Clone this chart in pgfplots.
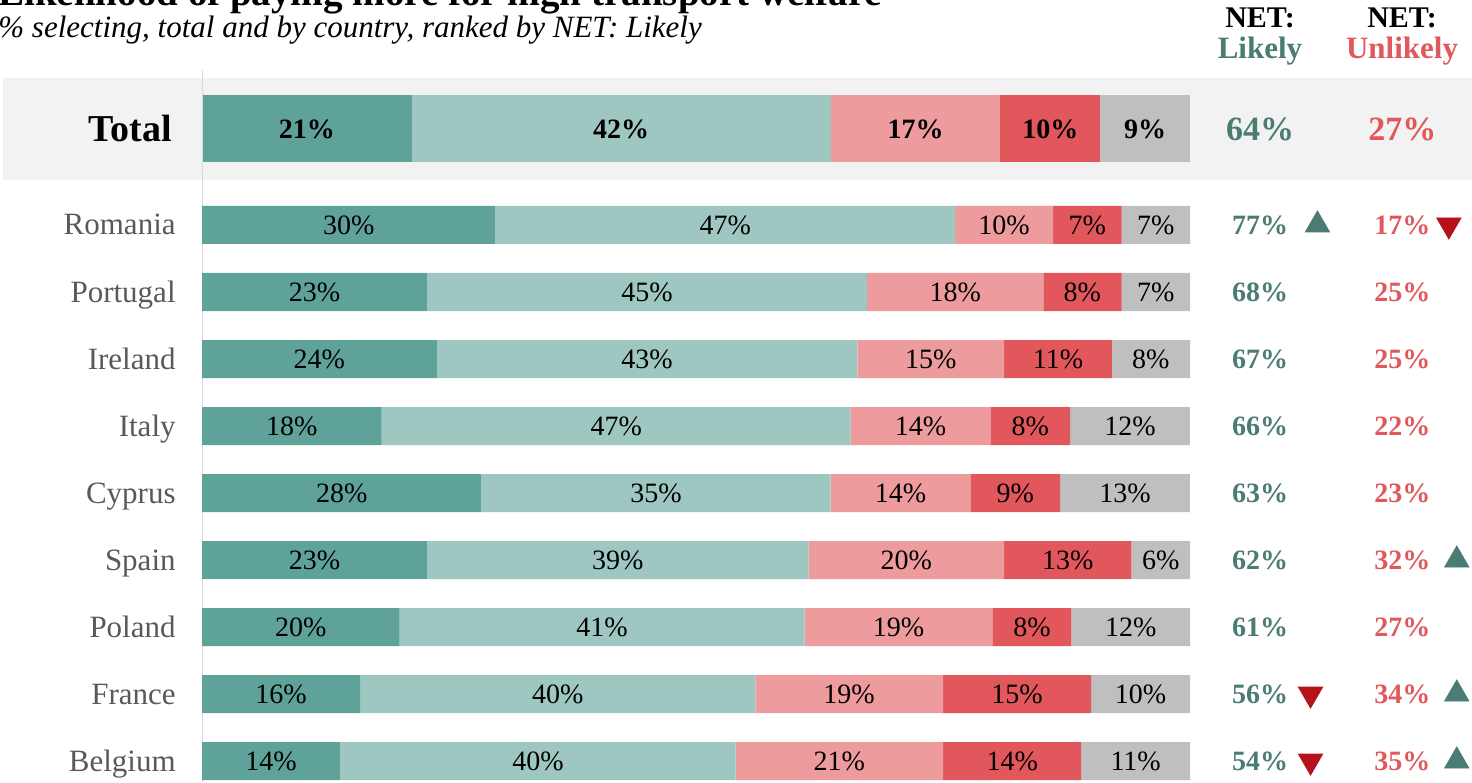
\documentclass[border=0pt]{standalone}
\usepackage{fontspec}
\setmainfont{Liberation Serif}
\usepackage{pgfplots}
\usepackage{pgfplotstable}
\pgfplotsset{compat=1.18}

\definecolor{cA}{HTML}{5FA29A}
\definecolor{cB}{HTML}{9FC7C2}
\definecolor{cC}{HTML}{ED9B9C}
\definecolor{cD}{HTML}{E2575C}
\definecolor{cE}{HTML}{BFBFBF}
\definecolor{likelyc}{HTML}{4A7C74}
\definecolor{unlikelyc}{HTML}{E0585C}
\definecolor{bandgray}{HTML}{F2F2F2}
\definecolor{namegray}{HTML}{595959}
\definecolor{downred}{HTML}{B5121B}
\definecolor{linegray}{HTML}{D9D9D9}

% rounded shares per row: a=very likely, b=somewhat likely, c=somewhat unlikely, d=very unlikely, e=don't know
\pgfplotstableread{
row name a b c d e nl nu
1 Romania 30 47 10 7 7 77 17
2 Portugal 23 45 18 8 7 68 25
3 Ireland 24 43 15 11 8 67 25
4 Italy 18 47 14 8 12 66 22
5 Cyprus 28 35 14 9 13 63 23
6 Spain 23 39 20 13 6 62 32
7 Poland 20 41 19 8 12 61 27
8 France 16 40 19 15 10 56 34
9 Belgium 14 40 21 14 11 54 35
}\countries

\pgfplotstableread{
row name a b c d e nl nu
-0.433 Total 21 42 17 10 9 64 27
}\total

% row sum, so every bar is scaled to 100
\newcommand{\rs}{(\thisrow{a}+\thisrow{b}+\thisrow{c}+\thisrow{d}+\thisrow{e})}

\pgfplotsset{
  base/.style={scale only axis, width=494pt, height=356pt,
    xmin=0, xmax=100, ymin=-1.313, ymax=9.313, y dir=reverse,
    hide axis, at={(101pt,-35pt)}, anchor=north west},
  lab/.style={draw=none, point meta=explicit symbolic,
    nodes near coords={\pgfplotspointmeta\%},
    every node near coord/.append style={anchor=center, text=black, font=#1}},
}

\begin{document}
\begin{tikzpicture}
\path[use as bounding box] (0,0) rectangle (736pt,-391pt);
\fill[bandgray] (1.5pt,-39pt) rectangle (736pt,-90pt);

\node[anchor=base west, inner sep=0pt, font=\bfseries\fontsize{19.5}{22}\selectfont] at (-1pt,-2.5pt)
  {Likelihood of paying more for high transport welfare};
\node[anchor=base west, inner sep=0pt, font=\itshape\fontsize{15.5}{18}\selectfont] at (-1pt,-18.5pt)
  {\% selecting, total and by country, ranked by NET: Likely};

\node[anchor=base, font=\bfseries\fontsize{15}{17}\selectfont] at (630pt,-13.5pt) {NET:};
\node[anchor=base, font=\bfseries\fontsize{15.5}{17}\selectfont, text=likelyc] at (630pt,-29pt) {Likely};
\node[anchor=base, font=\bfseries\fontsize{15}{17}\selectfont] at (701pt,-13.5pt) {NET:};
\node[anchor=base, font=\bfseries\fontsize{15.5}{17}\selectfont, text=unlikelyc] at (701pt,-29pt) {Unlikely};

% total bar
\begin{axis}[base, xbar stacked, bar width=33.5pt]
\draw[linegray, line width=0.6pt] (axis cs:0,-1.313) -- (axis cs:0,9.313);
\addplot[fill=cA, draw=none] table[x expr={100*\thisrow{a}/\rs}, y=row]{\total};
\addplot[fill=cB, draw=none] table[x expr={100*\thisrow{b}/\rs}, y=row]{\total};
\addplot[fill=cC, draw=none] table[x expr={100*\thisrow{c}/\rs}, y=row]{\total};
\addplot[fill=cD, draw=none] table[x expr={100*\thisrow{d}/\rs}, y=row]{\total};
\addplot[fill=cE, draw=none] table[x expr={100*\thisrow{e}/\rs}, y=row]{\total};
\end{axis}

% country bars
\begin{axis}[base, xbar stacked, bar width=19pt]
\addplot[fill=cA, draw=none] table[x expr={100*\thisrow{a}/\rs}, y=row]{\countries};
\addplot[fill=cB, draw=none] table[x expr={100*\thisrow{b}/\rs}, y=row]{\countries};
\addplot[fill=cC, draw=none] table[x expr={100*\thisrow{c}/\rs}, y=row]{\countries};
\addplot[fill=cD, draw=none] table[x expr={100*\thisrow{d}/\rs}, y=row]{\countries};
\addplot[fill=cE, draw=none] table[x expr={100*\thisrow{e}/\rs}, y=row]{\countries};
\end{axis}

% labels, NET columns and arrows
\begin{axis}[base, clip=false]
\def\sfont{\fontsize{14}{16}\selectfont}
\addplot[lab=\sfont] table[x expr={100*(\thisrow{a}/2)/\rs}, y=row, meta=a]{\countries};
\addplot[lab=\sfont] table[x expr={100*(\thisrow{a}+\thisrow{b}/2)/\rs}, y=row, meta=b]{\countries};
\addplot[lab=\sfont] table[x expr={100*(\thisrow{a}+\thisrow{b}+\thisrow{c}/2)/\rs}, y=row, meta=c]{\countries};
\addplot[lab=\sfont] table[x expr={100*(\thisrow{a}+\thisrow{b}+\thisrow{c}+\thisrow{d}/2)/\rs}, y=row, meta=d]{\countries};
\addplot[lab=\sfont] table[x expr={100*(\thisrow{a}+\thisrow{b}+\thisrow{c}+\thisrow{d}+\thisrow{e}/2)/\rs}, y=row, meta=e]{\countries};

\def\tfont{\bfseries\fontsize{14}{16}\selectfont}
\addplot[lab=\tfont] table[x expr={100*(\thisrow{a}/2)/\rs}, y=row, meta=a]{\total};
\addplot[lab=\tfont] table[x expr={100*(\thisrow{a}+\thisrow{b}/2)/\rs}, y=row, meta=b]{\total};
\addplot[lab=\tfont] table[x expr={100*(\thisrow{a}+\thisrow{b}+\thisrow{c}/2)/\rs}, y=row, meta=c]{\total};
\addplot[lab=\tfont] table[x expr={100*(\thisrow{a}+\thisrow{b}+\thisrow{c}+\thisrow{d}/2)/\rs}, y=row, meta=d]{\total};
\addplot[lab=\tfont] table[x expr={100*(\thisrow{a}+\thisrow{b}+\thisrow{c}+\thisrow{d}+\thisrow{e}/2)/\rs}, y=row, meta=e]{\total};

% row names
\addplot[draw=none, point meta=explicit symbolic, nodes near coords={\pgfplotspointmeta},
  every node near coord/.append style={anchor=base east, inner xsep=0pt, yshift=-5pt, text=namegray,
  font=\fontsize{15.5}{17}\selectfont}] table[x expr=-2.63, y=row, meta=name]{\countries};
\addplot[draw=none, point meta=explicit symbolic, nodes near coords={\pgfplotspointmeta},
  every node near coord/.append style={anchor=base east, inner xsep=0pt, yshift=-6.5pt, text=black,
  font=\bfseries\fontsize{19}{21}\selectfont}] table[x expr=-3.04, y=row, meta=name]{\total};

% NET columns
\addplot[lab=\bfseries\fontsize{14}{16}\selectfont, every node near coord/.append style={text=likelyc}]
  table[x expr=107.1, y=row, meta=nl]{\countries};
\addplot[lab=\bfseries\fontsize{14}{16}\selectfont, every node near coord/.append style={text=unlikelyc}]
  table[x expr=121.5, y=row, meta=nu]{\countries};
\addplot[lab=\bfseries\fontsize{17}{19}\selectfont, every node near coord/.append style={text=likelyc}]
  table[x expr=107.1, y=row, meta=nl]{\total};
\addplot[lab=\bfseries\fontsize{17}{19}\selectfont, every node near coord/.append style={text=unlikelyc}]
  table[x expr=121.5, y=row, meta=nu]{\total};

% significance arrows
\addplot[only marks, mark=triangle*, mark size=7pt, color=likelyc]
  coordinates {(112.9,1) (127.0,6) (127.0,8) (127.0,9)};
\addplot[only marks, mark=triangle*, mark size=7pt, mark options={rotate=180}, color=downred]
  coordinates {(126.2,1) (112.2,8) (112.2,9)};
\end{axis}
\end{tikzpicture}
\end{document}
